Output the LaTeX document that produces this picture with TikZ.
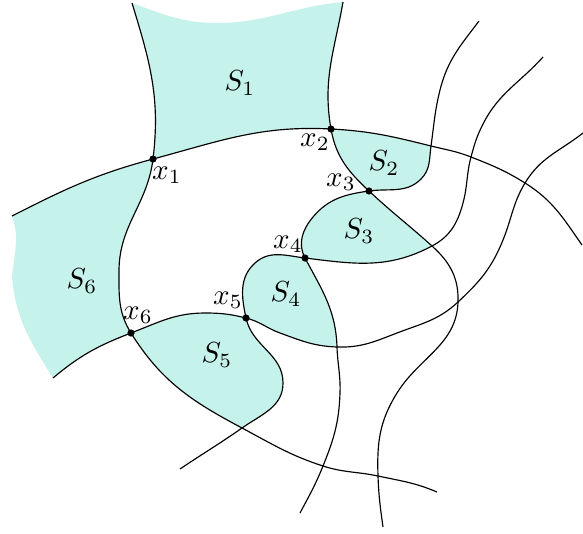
\documentclass[tikz,border=0pt]{standalone}
\definecolor{regfill}{RGB}{198,242,236}
\begin{document}
\begin{tikzpicture}[x=0.345pt,y=0.345pt,
  curve/.style={line width=0.4pt,line join=round},
  region/.style={fill=regfill},
  dotmark/.style={fill=black},
  lab/.style={inner sep=0pt}]
\useasboundingbox (0,0) rectangle (583,533);
% crossing points
\coordinate (x1) at (153,374);
\coordinate (x2) at (331,404);
\coordinate (x3) at (369,342);
\coordinate (x4) at (305,275);
\coordinate (x5) at (246,215);
\coordinate (x6) at (131,200);
\coordinate (AD) at (431,387);
\coordinate (EA) at (471,376);
\coordinate (FA) at (525,350);
\coordinate (CE) at (432,287);
\coordinate (CF) at (458,231);
\coordinate (EF) at (337,186);
\coordinate (DB) at (242,105);
\coordinate (EB) at (323,67);
\coordinate (CB) at (378,57);
% curve A
\coordinate (A0) at (12,317);
\coordinate (Aend) at (582,288);
% curve B
\coordinate (B0) at (132,530);
\coordinate (Bm) at (119,262);
\coordinate (Bend) at (437,41);
% curve C
\coordinate (C0) at (343,531);
\coordinate (C8) at (397,140);
\coordinate (Cend) at (383,6);
% curve D
\coordinate (D0) at (479,512);
\coordinate (D1) at (440,443);
\coordinate (Dc) at (421,354);
\coordinate (D2) at (313,316);
\coordinate (D3) at (340,140);
\coordinate (Dend) at (300,20);
% curve E
\coordinate (E0) at (543,476);
\coordinate (E1) at (483,409);
\coordinate (E2) at (463,330);
\coordinate (E3) at (255,270);
\coordinate (E4) at (283,150);
\coordinate (Eend) at (180,64);
% curve F
\coordinate (F0) at (583,400);
\coordinate (F1) at (503,293);
\coordinate (F3) at (397,200);
\coordinate (F4) at (280,200);
\coordinate (F5) at (205,220);
\coordinate (Fend) at (53,155);
% wavy borders
\coordinate (Wt) at (217,510);
\coordinate (W1) at (12,256);
\coordinate (W2) at (16,295);

% regions
\fill[region] (B0) to[out=-73,in=83] (x1) to[out=15,in=177] (x2) to[out=100,in=-100] (C0)
  to[out=185,in=0] (Wt) to[out=180,in=-20] (B0) -- cycle;
\fill[region] (x2) to[out=-80,in=137] (x3) to[out=8,in=-135] (Dc) to[out=45,in=-98] (AD)
  to[out=166,in=-3] (x2) -- cycle;
\fill[region] (x3) to[out=-43,in=138] (CE) to[out=-152,in=-7] (x4) to[out=118,in=-130] (D2)
  to[out=50,in=-172] (x3) -- cycle;
\fill[region] (x4) to[out=173,in=42] (E3) to[out=-138,in=102] (x5) to[out=-14,in=160] (F4)
  to[out=-20,in=178] (EF) to[out=92,in=-62] (x4) -- cycle;
\fill[region] (x6) to[out=21,in=180] (F5) to[out=0,in=166] (x5) to[out=-78,in=90] (E4)
  to[out=-90,in=35] (DB) to[out=152,in=-58] (x6) -- cycle;
\fill[region] (A0) to[out=27,in=195] (x1) to[out=-97,in=90] (Bm) to[out=-90,in=122] (x6)
  to[out=-159,in=40] (Fend) to[out=122,in=-85] (W1) to[out=85,in=-90] (W2)
  to[out=90,in=-75] (A0) -- cycle;

% curves
\draw[curve] (A0) to[out=27,in=195] (x1) to[out=15,in=177] (x2) to[out=-3,in=166] (AD)
  to[out=-14,in=158.5] (EA) to[out=-21.5,in=148] (FA) to[out=-32,in=125] (Aend);
\draw[curve] (B0) to[out=-73,in=83] (x1) to[out=-97,in=90] (Bm) to[out=-90,in=122] (x6)
  to[out=-58,in=152] (DB) to[out=-28,in=162] (EB) to[out=-18,in=168] (CB) to[out=-12,in=157] (Bend);
\draw[curve] (C0) to[out=-100,in=100] (x2) to[out=-80,in=137] (x3) to[out=-43,in=138] (CE)
  to[out=-42,in=88] (CF) to[out=-92,in=58] (C8) to[out=-122,in=92] (CB) to[out=-88,in=98] (Cend);
\draw[curve] (D0) to[out=-127,in=76] (D1) to[out=-104,in=82] (AD) to[out=-98,in=45] (Dc)
  to[out=-135,in=8] (x3) to[out=-172,in=50] (D2) to[out=-130,in=118] (x4) to[out=-62,in=92] (EF)
  to[out=-88,in=88] (D3) to[out=-92,in=68] (EB) to[out=-112,in=62] (Dend);
\draw[curve] (E0) to[out=-132,in=63] (E1) to[out=-117,in=75] (EA) to[out=-105,in=75] (E2)
  to[out=-105,in=28] (CE) to[out=-152,in=-7] (x4) to[out=173,in=42] (E3) to[out=-138,in=102] (x5)
  to[out=-78,in=90] (E4) to[out=-90,in=35] (DB) to[out=-145,in=34] (Eend);
\draw[curve] (F0) to[out=-142,in=59] (FA) to[out=-121,in=68] (F1) to[out=-112,in=43] (CF)
  to[out=-137,in=21] (F3) to[out=-159,in=-2] (EF) to[out=178,in=-20] (F4) to[out=160,in=-14] (x5)
  to[out=166,in=0] (F5) to[out=180,in=21] (x6) to[out=-159,in=40] (Fend);

% dots
\foreach \p in {x1,x2,x3,x4,x5,x6} \fill[dotmark] (\p) circle (3.6);

% labels
\node[lab] (lS1) at (240,450) {$S_1$};
\node[lab] (lS2) at (384,370) {$S_2$};
\node[lab] (lS3) at (359,302) {$S_3$};
\node[lab] (lS4) at (286,239) {$S_4$};
\node[lab] (lS5) at (217,178) {$S_5$};
\node[lab] (lS6) at (82,252) {$S_6$};
\node[lab] (lx1) at (167,358) {$x_1$};
\node[lab] (lx2) at (315,391) {$x_2$};
\node[lab] (lx3) at (341,351) {$x_3$};
\node[lab] (lx4) at (288,289) {$x_4$};
\node[lab] (lx5) at (228,233) {$x_5$};
\node[lab] (lx6) at (138,218) {$x_6$};
\end{tikzpicture}
\end{document}
